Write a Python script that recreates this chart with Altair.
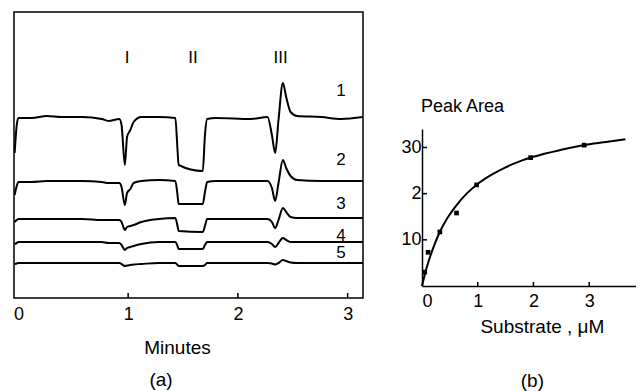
import altair as alt
import pandas as pd

# ---------------- Panel (a): chromatograms ----------------
time_min = [-0.034, -0.015, 0.0, 0.12, 0.26, 0.39, 0.58, 0.76, 0.82, 0.92,
            0.94, 0.97, 0.99, 1.02, 1.05, 1.12, 1.28, 1.43, 1.45, 1.46,
            1.68, 1.70, 1.72, 1.80, 2.12, 2.27, 2.31, 2.34, 2.37, 2.41,
            2.44, 2.48, 2.54, 2.76, 2.94, 3.14]
trace1 = [145, 173, 180, 180, 182, 181, 181, 179, 177, 179,
          173, 133, 161, 168, 176, 181, 181, 180, 148, 133,
          127, 163, 179, 180, 179, 181, 163, 145, 178, 215,
          201, 186, 182, 181, 179, 181]
trace2 = [103, 112, 116, 116, 117, 117, 117, 116, 115, 115,
          111, 93, 105, 109, 115, 117, 118, 117, 103, 94,
          94, 106, 116, 117, 117, 117, 110, 97, 115, 138,
          130, 122, 118, 117, 117, 117]
trace3 = [76, 78, 79, 79, 79, 79, 79, 78, 78, 78,
          76, 68, 71, 72, 73, 76, 79, 80, 72, 67,
          66, 72, 79, 79, 79, 79, 76, 70, 78, 90,
          86, 81, 80, 80, 80, 80]
trace4 = [54, 55, 56, 56, 56, 56, 56, 56, 55, 55,
          53, 48, 50, 51, 52, 54, 56, 56, 52, 49,
          49, 53, 56, 56, 56, 56, 54, 51, 55, 60,
          58, 56, 56, 56, 56, 56]
trace5 = [34, 34.5, 35, 35, 35, 35, 35, 35, 35, 35,
          34, 32, 32.5, 33, 33.5, 34, 35, 35, 33, 32,
          32, 33, 35, 35, 35, 35, 34.5, 33.5, 35, 38,
          37, 35.5, 35, 35, 35, 35]
trace_names = ["1", "2", "3", "4", "5"]
trace_label_y = [207, 138, 94.5, 62.5, 45]
trace_label_t = 2.94
peak_names = ["I", "II", "III"]
peak_t = [0.99, 1.59, 2.39]
peak_label_y = 240
time_ticks = [0, 1, 2, 3]

# ---------------- Panel (b): saturation curve ----------------
substrate_uM = [0.05, 0.11, 0.32, 0.62, 0.98, 1.95, 2.91]
peak_area = [3.0, 7.3, 11.7, 15.8, 21.9, 27.8, 30.5]
fit_x = [0, 0.03, 0.07, 0.12, 0.2, 0.3, 0.45, 0.6, 0.8, 1.0, 1.25, 1.5,
         1.75, 2.0, 2.5, 3.0, 3.3, 3.65]
fit_y = [0, 1.5, 3.4, 5.4, 8.2, 11.2, 14.6, 17.2, 20.0, 22.1, 24.1, 25.7,
         27.0, 28.0, 29.5, 30.7, 31.2, 31.8]
sub_ticks = [0, 1, 2, 3]
area_ticks = [10, 20, 30]

FONT = "Liberation Sans"
WA, HA = 349, 286
WB, HB = 214, 274

# ----- build tables -----
rows = []
for name, vals in zip(trace_names, [trace1, trace2, trace3, trace4, trace5]):
    for t, v in zip(time_min, vals):
        rows.append({"trace": name, "t": t, "s": v})
traces_df = pd.DataFrame(rows)

labels_a = pd.DataFrame(
    [{"txt": n, "t": trace_label_t, "s": y} for n, y in zip(trace_names, trace_label_y)]
    + [{"txt": n, "t": t, "s": peak_label_y} for n, t in zip(peak_names, peak_t)]
)
ticks_a = pd.DataFrame({"t": time_ticks[1:]})

xa = alt.X("t:Q", scale=alt.Scale(domain=[-0.04, 3.14], nice=False, zero=False),
           axis=alt.Axis(values=time_ticks, format="d", title=None, domain=False,
                         ticks=False, grid=False, labelFontSize=18, labelPadding=7,
                         labelColor="black", labelFont=FONT))
ya = alt.Y("s:Q", scale=alt.Scale(domain=[0, 286], nice=False, zero=False), axis=None)

lines_a = alt.Chart(traces_df).mark_line(color="black", strokeWidth=2, clip=True,
                                         interpolate="monotone").encode(
    x=xa, y=ya, detail="trace:N")
text_a = alt.Chart(labels_a).mark_text(fontSize=17, font=FONT, color="black",
                                       baseline="middle").encode(
    x="t:Q", y="s:Q", text="txt:N")
tick_a = alt.Chart(ticks_a).mark_rule(color="black", strokeWidth=1.5).encode(
    x="t:Q", y=alt.value(HA), y2=alt.value(HA - 5))
title_a = alt.Chart(pd.DataFrame({"txt": ["Minutes", "(a)"], "t": [1.45, 1.30],
                                  "s": [-50, -82]})).mark_text(
    fontSize=19, font=FONT, color="black", baseline="middle").encode(
    x="t:Q", y="s:Q", text="txt:N")

panel_a = alt.layer(lines_a, text_a, tick_a, title_a).properties(
    width=WA, height=HA,
    view=alt.ViewBackground(stroke="black", strokeWidth=1.5))

# ----- panel b -----
pts_df = pd.DataFrame({"x": substrate_uM, "y": peak_area})
fit_df = pd.DataFrame({"x": fit_x, "y": fit_y})

xb = alt.X("x:Q", scale=alt.Scale(domain=[0, 3.84], nice=False, zero=False),
           axis=alt.Axis(values=sub_ticks, format="d", title=None, domain=True,
                         domainColor="black", domainWidth=1.5, ticks=False, grid=False,
                         labelFontSize=18, labelPadding=6, labelColor="black",
                         labelFont=FONT))
yb = alt.Y("y:Q", scale=alt.Scale(domain=[0, 34], range=[HB, 117], nice=False, zero=False),
           axis=alt.Axis(values=area_ticks, title=None, domain=True, domainColor="black",
                         domainWidth=1.5, ticks=False, grid=False, labelFontSize=18,
                         labelPadding=1, labelColor="black", labelFont=FONT,
                         labelExpr="datum.value == 20 ? '2' : datum.label"))

curve_b = alt.Chart(fit_df).mark_line(color="black", strokeWidth=2,
                                      interpolate="monotone").encode(x=xb, y=yb)
pts_b = alt.Chart(pts_df).mark_square(color="black", size=22, opacity=1).encode(
    x="x:Q", y="y:Q")
xt_b = alt.Chart(pd.DataFrame({"x": sub_ticks[1:]})).mark_rule(
    color="black", strokeWidth=1.5).encode(x="x:Q", y=alt.value(HB), y2=alt.value(HB - 4))
yt_b = alt.Chart(pd.DataFrame({"y": area_ticks})).mark_rule(
    color="black", strokeWidth=1.5).encode(y="y:Q", x=alt.value(0), x2=alt.value(5))
peak_lbl = alt.Chart(pd.DataFrame({"txt": ["Peak Area"], "x": [0], "y": [38.7]})).mark_text(
    fontSize=18, font=FONT, color="black", align="left", baseline="middle", dx=-1).encode(
    x="x:Q", y="y:Q", text="txt:N")
titles_b = alt.Chart(pd.DataFrame({"txt": ["Substrate , μM", "(b)"], "x": [2.16, 1.98],
                                   "y": [-8.9, -20.6]})).mark_text(
    fontSize=19, font=FONT, color="black", baseline="middle").encode(
    x="x:Q", y="y:Q", text="txt:N")

panel_b = alt.layer(curve_b, pts_b, xt_b, yt_b, peak_lbl, titles_b).properties(
    width=WB, height=HB)

chart = alt.hconcat(panel_a, panel_b, spacing=59, bounds="flush").properties(
    padding={"left": 4, "top": 3, "right": 0, "bottom": 0},
    background="white",
).configure_view(strokeWidth=0)

chart.save("out.html", embed_options={"renderer": "svg", "actions": False})
